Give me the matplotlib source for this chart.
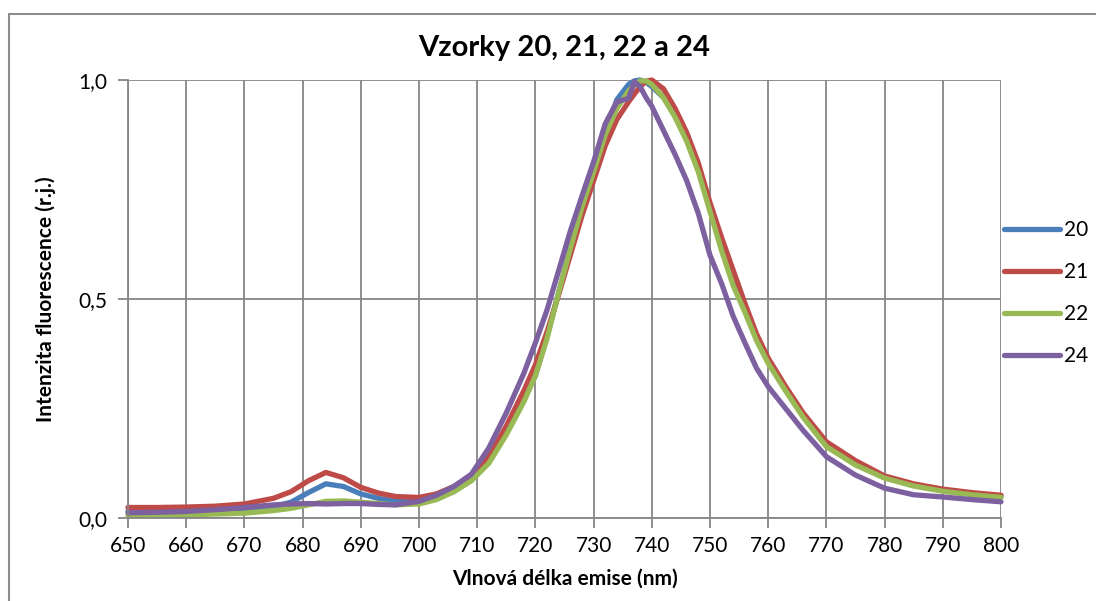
import matplotlib
matplotlib.use("Agg")
import matplotlib.pyplot as plt
from matplotlib.patches import Rectangle
from matplotlib.ticker import FuncFormatter

plt.rcParams["font.family"] = ["Lato", "DejaVu Sans"]

# emission wavelength (nm), shared by all four samples
wavelength = [650, 655, 660, 665, 670, 675, 678, 681, 684, 687, 690, 693, 696,
              700, 703, 706, 709, 712, 715, 718, 720, 722, 724, 726, 728, 730,
              732, 734, 736, 737, 738, 739, 740, 742, 744, 746, 748, 750, 752,
              754, 756, 758, 760, 763, 766, 770, 775, 780, 785, 790, 795, 800]

s20 = [0.015, 0.015, 0.016, 0.018, 0.020, 0.026, 0.036, 0.058, 0.078, 0.072,
       0.055, 0.045, 0.038, 0.038, 0.046, 0.062, 0.088, 0.130, 0.195, 0.270,
       0.325, 0.415, 0.515, 0.615, 0.710, 0.795, 0.880, 0.955, 0.990, 0.998,
       1.000, 0.995, 0.985, 0.960, 0.920, 0.865, 0.795, 0.708, 0.620, 0.545,
       0.478, 0.412, 0.358, 0.295, 0.235, 0.168, 0.125, 0.093, 0.075, 0.063,
       0.055, 0.049]

s21 = [0.024, 0.024, 0.025, 0.027, 0.032, 0.045, 0.060, 0.085, 0.104, 0.092,
       0.070, 0.057, 0.049, 0.047, 0.055, 0.072, 0.095, 0.140, 0.210, 0.290,
       0.350, 0.425, 0.510, 0.600, 0.690, 0.770, 0.850, 0.910, 0.950, 0.968,
       0.985, 0.997, 1.000, 0.980, 0.935, 0.880, 0.810, 0.720, 0.640, 0.565,
       0.490, 0.420, 0.365, 0.300, 0.240, 0.174, 0.131, 0.096, 0.078, 0.066,
       0.058, 0.052]

s22 = [0.005, 0.006, 0.007, 0.009, 0.011, 0.017, 0.022, 0.030, 0.038, 0.039,
       0.036, 0.033, 0.030, 0.032, 0.042, 0.060, 0.085, 0.125, 0.190, 0.265,
       0.325, 0.410, 0.515, 0.615, 0.710, 0.790, 0.875, 0.935, 0.975, 0.988,
       0.998, 0.998, 0.990, 0.960, 0.915, 0.860, 0.790, 0.700, 0.610, 0.530,
       0.470, 0.405, 0.353, 0.290, 0.230, 0.163, 0.121, 0.091, 0.073, 0.061,
       0.053, 0.047]

s24 = [0.012, 0.013, 0.015, 0.019, 0.024, 0.030, 0.032, 0.033, 0.032, 0.033,
       0.033, 0.031, 0.030, 0.038, 0.052, 0.072, 0.100, 0.160, 0.240, 0.330,
       0.400, 0.475, 0.565, 0.655, 0.735, 0.813, 0.900, 0.950, 0.958, 0.996,
       0.985, 0.960, 0.940, 0.885, 0.830, 0.770, 0.695, 0.600, 0.535, 0.460,
       0.400, 0.342, 0.300, 0.250, 0.200, 0.140, 0.098, 0.068, 0.053, 0.048,
       0.042, 0.037]

labels = ["20", "21", "22", "24"]
colors = ["#4a7ebb", "#be4b48", "#98b954", "#7d60a0"]

fig = plt.figure(figsize=(10.96, 6.01), dpi=100)
ax = fig.add_axes([128 / 1096, 83 / 601, 873 / 1096, 438 / 601])

lines = []
for y, lab, c in zip([s20, s21, s22, s24], labels, colors):
    ln, = ax.plot(wavelength, y, color=c, lw=3.8, label=lab,
                  solid_capstyle="round", solid_joinstyle="round", clip_on=False)
    lines.append(ln)

grid_c = "#868686"
ax.set_xlim(650, 800)
ax.set_ylim(0, 1.0)
ax.set_xticks(range(650, 801, 10))
ax.set_yticks([0, 0.5, 1.0])
ax.yaxis.set_major_formatter(FuncFormatter(lambda v, p: f"{v:.1f}".replace(".", ",")))
ax.grid(True, color=grid_c, lw=1.3)
ax.set_axisbelow(True)
for s in ["top", "right"]:
    ax.spines[s].set_visible(False)
for s in ["left", "bottom"]:
    ax.spines[s].set_color(grid_c)
    ax.spines[s].set_linewidth(1.3)
ax.tick_params(colors=grid_c, labelcolor="black", labelsize=15, length=7, width=1.3)
ax.tick_params(axis="x", pad=6)
ax.tick_params(axis="y", pad=8)

ax.set_title("Vzorky 20, 21, 22 a 24", fontsize=21, fontweight="bold", pad=17)
ax.set_xlabel("Vlnová délka emise (nm)", fontsize=15, fontweight="bold", labelpad=9)
ax.set_ylabel("Intenzita fluorescence (r.j.)", fontsize=15, fontweight="bold", labelpad=16)

fig.legend(handles=lines, loc="center left",
           bbox_to_anchor=(1004 / 1096, (601 - 293) / 601), frameon=False,
           fontsize=15, handlelength=2.7, handletextpad=0.2, labelspacing=1.05,
           borderpad=0, borderaxespad=0)

# chart frame
fig.patches.append(Rectangle((9 / 1096, -0.2), 1.2, 0.2 + (601 - 14) / 601,
                             transform=fig.transFigure, fill=False,
                             edgecolor="#8c8c8c", lw=1.5))

fig.savefig("out.png", dpi=100)
